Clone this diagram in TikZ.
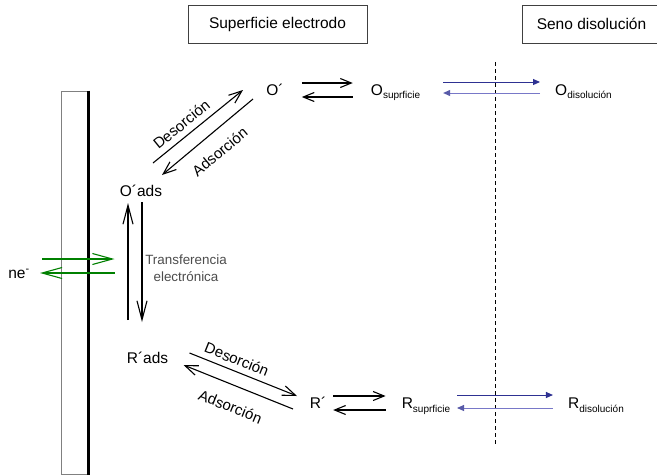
\documentclass[tikz,border=0pt]{standalone}
\usepackage{fontspec}
\setmainfont{Liberation Sans}
\usetikzlibrary{arrows.meta}
\definecolor{darkblue}{RGB}{46,49,146}
\definecolor{lightblue}{RGB}{120,120,200}
\definecolor{darkgreen}{RGB}{0,128,0}
\newcommand{\subtxt}[1]{\raisebox{-3.5pt}{\fontsize{10}{12}\selectfont #1}}

\begin{document}
\begin{tikzpicture}[x=1pt, y=-1pt]
    % Define styles
    \tikzstyle{header} = [rectangle, draw=black!75, line width=0.8pt, minimum height=38pt, font=\fontsize{15.5}{18}\selectfont]
    \tikzstyle{species} = [inner sep=0pt, anchor=base, font=\fontsize{15.5}{18}\selectfont]
    \tikzstyle{eq} = [draw, line width=1.1pt, -{Straight Barb[length=11pt,width=9pt]}]
    \tikzstyle{longeq} = [eq, -{Straight Barb[length=19pt,width=10pt]}]
    \tikzstyle{flux} = [draw, line width=1pt, -{Triangle[length=7pt,width=6pt]}]
    \tikzstyle{electron} = [draw=darkgreen, line width=1.1pt, -{Straight Barb[length=20pt,width=11pt]}]
    \tikzstyle{lbl} = [sloped, inner sep=2pt, font=\fontsize{15}{18}\selectfont]

    \useasboundingbox (0,0) rectangle (657,475);

    % Headers
    \node [header, minimum width=179pt] (superficie) at (277.5,24) {Superficie electrodo};
    \node [header, minimum width=139pt] (seno) at (591.5,24) {Seno disolución};

    % Electrode
    \node [draw=gray, line width=1pt, minimum width=27pt, minimum height=383pt, inner sep=0pt] (electrode) at (74.5,282.5) {};
    \draw [line width=2.5pt] (electrode.north east) -- (electrode.south east);

    % Boundary surface / bulk
    \coordinate (dtop) at (495,62);
    \coordinate (dbot) at (495,445);
    \draw [line width=0.8pt, dash pattern=on 4pt off 3pt] (dtop) -- (dbot);

    % Oxidized species
    \node [species] (op) at (275,95) {O´};
    \node [species] (osup) at (395.6,95) {O\subtxt{suprficie}};
    \node [species] (odis) at (583.5,95) {O\subtxt{disolución}};
    \node [species] (oads) at (141,196) {O´ads};

    % Reduced species
    \node [species] (rp) at (318,408.5) {R´};
    \node [species] (rsup) at (426,408.5) {R\subtxt{suprficie}};
    \node [species] (rdis) at (596,408.5) {R\subtxt{disolución}};
    \node [species] (rads) at (147.5,363) {R´ads};

    % Electrons
    \node [species] (ne) at (19,278) {ne\textsuperscript{-}};
    \coordinate (metal) at (114.5,266);
    \node [align=center, font=\fontsize{13.4}{17}\selectfont, text=black!70] (transf) at (186,268) {Transferencia\\electrónica};

    % O side
    \draw [eq, shorten <=18pt, shorten >=18pt] ([yshift=12pt]op.base east) -- ([yshift=12pt]osup.base west);
    \draw [eq, shorten <=18pt, shorten >=18pt] ([yshift=-2pt]osup.base west) -- ([yshift=-2pt]op.base east);
    \draw [flux, darkblue, shorten <=22.7pt, shorten >=15pt] ([yshift=13pt]osup.base east) -- ([yshift=13pt]odis.base west);
    \draw [flux, lightblue, -{Triangle[length=7pt,width=6pt,color=darkblue!80]}, shorten <=15pt, shorten >=22.7pt] ([yshift=2pt]odis.base west) -- ([yshift=2pt]osup.base east);
    \draw [eq, -{Straight Barb[length=13pt,width=10pt]}] ([shift={(12,-33)}]oads.base) -- node[lbl, above=4pt, pos=0.4] {Desorción} ([shift={(-32,-5)}]op.base);
    \draw [eq, -{Straight Barb[length=13pt,width=10pt]}] ([shift={(-22,4)}]op.base) -- node[lbl, below=11pt] {Adsorción} ([shift={(21,-21)}]oads.base);

    % Charge transfer
    \draw [longeq] ([shift={(-19.5,-43)}]rads.base) -- ([shift={(-13,7)}]oads.base);
    \draw [longeq] ([shift={(1,6)}]oads.base) -- ([shift={(-5.5,-41)}]rads.base);
    \draw [electron] ([shift={(23,-19)}]ne.base) -- ([yshift=7pt]metal);
    \draw [electron] ([yshift=-7pt]metal) -- ([shift={(21,-5)}]ne.base);

    % R side
    \draw [eq, -{Straight Barb[length=13pt,width=10pt]}] ([shift={(42,-10)}]rads.base) -- node[lbl, above=3.5pt, pos=0.4] {Desorción} ([shift={(-21,-12.5)}]rp.base);
    \draw [eq, -{Straight Barb[length=13pt,width=10pt]}] ([shift={(-25,0.5)}]rp.base) -- node[lbl, below=13pt] {Adsorción} ([shift={(36,2)}]rads.base);
    \draw [eq, shorten <=6.8pt, shorten >=16pt] ([yshift=12.5pt]rp.base east) -- ([yshift=12.5pt]rsup.base west);
    \draw [eq, shorten <=16pt, shorten >=6.8pt] ([yshift=-1.5pt]rsup.base west) -- ([yshift=-1.5pt]rp.base east);
    \draw [flux, darkblue, shorten <=6.6pt, shorten >=15pt] ([yshift=13.5pt]rsup.base east) -- ([yshift=13.5pt]rdis.base west);
    \draw [flux, lightblue, -{Triangle[length=7pt,width=6pt,color=darkblue!80]}, shorten <=15pt, shorten >=6.6pt] ([yshift=0.5pt]rdis.base west) -- ([yshift=0.5pt]rsup.base east);
\end{tikzpicture}
\end{document}
